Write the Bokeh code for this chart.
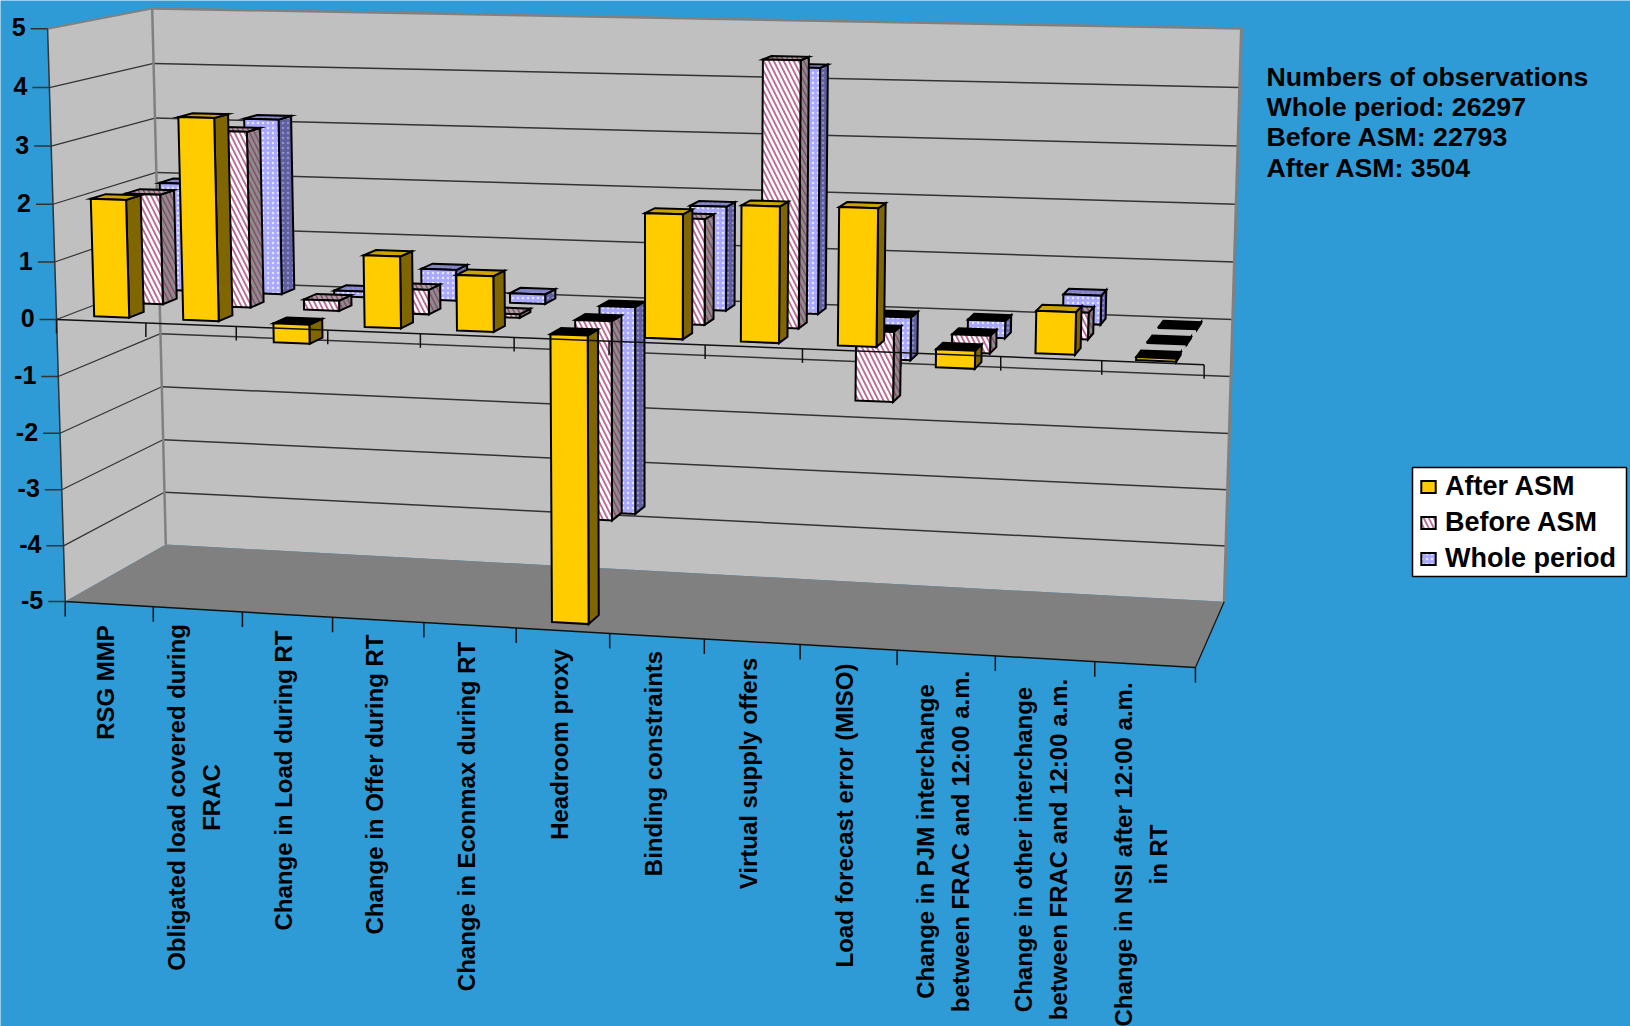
import numpy as np
from bokeh.core.properties import value
from bokeh.embed import file_html
from bokeh.models import Legend, LegendItem, Range1d
from bokeh.plotting import figure
from bokeh.resources import INLINE

# ---- chart data ----------------------------------------------------------
categories = [
    ["RSG MMP"],
    ["Obligated load covered during", "FRAC"],
    ["Change in Load during RT"],
    ["Change in Offer during RT"],
    ["Change in Econmax during RT"],
    ["Headroom proxy"],
    ["Binding constraints"],
    ["Virtual supply offers"],
    ["Load forecast error (MISO)"],
    ["Change in PJM interchange", "between FRAC and 12:00 a.m."],
    ["Change in other interchange", "between FRAC and 12:00 a.m."],
    ["Change in NSI after 12:00 a.m.", "in RT"],
]
after_asm = [2.05, 3.5, -0.33, 1.23, 0.95, -4.98, 2.1, 2.28, 2.3, -0.3, 0.7, -0.05]
before_asm = [1.95, 3.1, 0.18, 0.43, 0.06, -3.5, 1.82, 4.55, -1.2, -0.3, 0.45, -0.02]
whole_period = [1.95, 3.15, 0.1, 0.55, 0.17, -3.72, 1.83, 4.28, -0.75, -0.3, 0.5, -0.02]
value_ticks = [5, 4, 3, 2, 1, 0, -1, -2, -3, -4, -5]
notes = [
    "Numbers of observations",
    "Whole period: 26297",
    "Before ASM: 22793",
    "After ASM: 3504",
]

# ---- page and styling constants ------------------------------------------
WIDTH, HEIGHT = 1630, 1026
PAGE = "#2E9BD6"
WALL = "#C0C0C0"
FLOOR = "#808080"
FONT = "Liberation Sans"
N_CAT = len(categories)

# ---- perspective camera: (category, value, depth) -> page pixels ---------
camera_anchors = [
    (0, 5, 0, 47, 28), (0, 0, 0, 56, 319), (0, -5, 0, 64.6, 601),
    (1, -5, 0, 153, 606), (3, -5, 0, 332.5, 616.7), (6, -5, 0, 609, 633),
    (9, -5, 0, 897, 650), (12, -5, 0, 1194.6, 667),
    (1, 0, 0, 145, 322.7), (3, 0, 0, 328, 329.3), (6, 0, 0, 608, 341),
    (9, 0, 0, 900, 352.5), (12, 0, 0, 1204, 364),
    (0, 5, 1, 152, 8), (0, 0, 1, 158.5, 280), (0, -5, 1, 165, 544),
    (12, 5, 1, 1241, 28), (12, 0, 1, 1232, 319), (12, -5, 1, 1224, 601),
]


def fit_camera(anchors):
    rows, rhs = [], []
    for u, v, w, x, y in anchors:
        rows.append([u, v, w, 1, 0, 0, 0, 0, -x * u, -x * v, -x * w])
        rhs.append(x)
        rows.append([0, 0, 0, 0, u, v, w, 1, -y * u, -y * v, -y * w])
        rhs.append(y)
    sol = np.linalg.lstsq(np.array(rows, float), np.array(rhs, float), rcond=None)[0]
    return np.append(sol, 1.0).reshape(3, 4)


CAMERA = fit_camera(camera_anchors)


def project(u, v, w):
    q = CAMERA @ np.array([u, v, w, 1.0])
    return q[0] / q[2], q[1] / q[2]


def face(*corners):
    pts = [project(*c) for c in corners]
    return [p[0] for p in pts], [p[1] for p in pts]


def add_face(plot, faces, **style):
    xs = [f[0] for f in faces]
    ys = [f[1] for f in faces]
    return plot.patches(xs, ys, **style)


def segment(plot, a, b, color, width):
    (x0, y0), (x1, y1) = project(*a), project(*b)
    plot.line([x0, x1], [y0, y1], line_color=color, line_width=width)


p = figure(
    width=WIDTH, height=HEIGHT, output_backend="svg", toolbar_location=None,
    x_range=Range1d(0, WIDTH), y_range=Range1d(HEIGHT, 0),
    background_fill_color=PAGE, border_fill_color=PAGE,
    min_border=0, outline_line_color=None, x_axis_type=None, y_axis_type=None,
)
p.grid.visible = False

# ---- walls and floor -----------------------------------------------------
add_face(p, [face((0, -5, 0), (0, -5, 1), (0, 5, 1), (0, 5, 0))], fill_color=WALL, line_color=None)
add_face(p, [face((0, -5, 1), (N_CAT, -5, 1), (N_CAT, 5, 1), (0, 5, 1))], fill_color=WALL, line_color=None)
add_face(p, [face((0, -5, 0), (N_CAT, -5, 0), (N_CAT, -5, 1), (0, -5, 1))], fill_color=FLOOR, line_color=None)

for tick in value_ticks:
    if abs(tick) != 5:
        segment(p, (0, tick, 0), (0, tick, 1), "#333333", 1.2)
        segment(p, (0, tick, 1), (N_CAT, tick, 1), "#333333", 1.5)

segment(p, (0, 5, 0), (0, 5, 1), FLOOR, 2)
segment(p, (0, 5, 1), (N_CAT, 5, 1), FLOOR, 2.5)
segment(p, (0, 5, 1), (0, -5, 1), FLOOR, 2.5)
segment(p, (N_CAT, 5, 1), (N_CAT, -5, 1), FLOOR, 3)
segment(p, (0, -5, 0), (0, 5, 0), "#333333", 1.5)
segment(p, (0, -5, 0), (N_CAT, -5, 0), "#111111", 1.5)
segment(p, (N_CAT, -5, 0), (N_CAT, -5, 1), "#111111", 1.2)

# ---- 3-D columns, drawn from the back series to the front one -------------
BAR_WIDTH = 0.395
BAR_DEPTH = 0.14
series = [
    dict(name="Whole period", values=whole_period, w=0.77, fill="#A9A9FF", side="#5F5F9E", top="#8282C4",
         pattern=dict(hatch_pattern="dot", hatch_color="#FFFFFF", hatch_scale=5, hatch_weight=1.6, hatch_alpha=0.7),
         side_pattern=dict(hatch_pattern="dot", hatch_color="#8F8FCF", hatch_scale=5, hatch_weight=1.5)),
    dict(name="Before ASM", values=before_asm, w=0.43, fill="#FFFFFF", side="#8C8C8C", top="#A8A0A4",
         pattern=dict(hatch_pattern="left_diagonal_line", hatch_color="#BC6C95", hatch_scale=10, hatch_weight=1.9),
         side_pattern=dict(hatch_pattern="left_diagonal_line", hatch_color="#8A4A6A", hatch_scale=10, hatch_weight=1.5)),
    dict(name="After ASM", values=after_asm, w=0.10, fill="#FFCC00", side="#806600", top="#CCA300",
         pattern=dict(), side_pattern=dict()),
]
OUTLINE = dict(line_color="black", line_width=2, line_join="miter")
legend_renderers = {}
for s in series:
    sides, tops_up, tops_down, fronts = [], [], [], []
    w0, w1 = s["w"], s["w"] + BAR_DEPTH
    for i, val in enumerate(s["values"]):
        u0, u1 = i + 0.5 - BAR_WIDTH / 2, i + 0.5 + BAR_WIDTH / 2
        hi, lo = max(val, 0), min(val, 0)
        sides.append(face((u1, lo, w0), (u1, lo, w1), (u1, hi, w1), (u1, hi, w0)))
        lid = face((u0, hi, w0), (u1, hi, w0), (u1, hi, w1), (u0, hi, w1))
        (tops_up if val > 0 else tops_down).append(lid)
        fronts.append(face((u0, lo, w0), (u1, lo, w0), (u1, hi, w0), (u0, hi, w0)))
    add_face(p, sides, fill_color=s["side"], **s["side_pattern"], **OUTLINE)
    if tops_up:
        add_face(p, tops_up, fill_color=s["top"], **s["side_pattern"], **OUTLINE)
    if tops_down:
        add_face(p, tops_down, fill_color="black", **OUTLINE)
    legend_renderers[s["name"]] = add_face(p, fronts, fill_color=s["fill"], **s["pattern"], **OUTLINE)

# ---- category axis at zero, with its ticks, runs over the columns --------
segment(p, (0, 0, 0), (N_CAT, 0, 0), "#111111", 1.5)
for k in range(N_CAT + 1):
    x, y = project(k, 0, 0)
    p.line([x, x], [y, y + 14], line_color="#111111", line_width=1.5)
    x, y = project(k, -5, 0)
    p.line([x, x], [y, y + 15], line_color="#111111", line_width=1.5)

# ---- value axis ----------------------------------------------------------
tick_x, tick_y = zip(*[project(0, t, 0) for t in value_ticks])
for x, y in zip(tick_x, tick_y):
    p.line([x - 17, x], [y, y], line_color="#333333", line_width=1.5)
p.text(
    x=[x - 22 for x in tick_x], y=[y - 1.5 for y in tick_y], text=[str(t) for t in value_ticks],
    text_font=value(FONT), text_font_style="bold", text_font_size="25px",
    text_align="right", text_baseline="middle", text_color="black",
)

# ---- rotated category labels, one or two lines centred on the same spot ---
label_centre_y = [682, 797, 780, 784, 816, 744, 763, 773, 815, 841, 849, 854]
LINE_GAP = 35
lx, ly, lt = [], [], []
for k, (lines, cy) in enumerate(zip(categories, label_centre_y)):
    mid = project(k + 0.5, -5, 0)[0] - 3.5
    for j, line in enumerate(lines):
        lx.append(mid + (j - (len(lines) - 1) / 2) * LINE_GAP)
        ly.append(cy)
        lt.append(line)
p.text(
    x=lx, y=ly, text=lt, angle=np.pi / 2,
    text_font=value(FONT), text_font_style="bold", text_font_size="24px",
    text_align="center", text_baseline="middle", text_color="black",
)

# ---- observation counts --------------------------------------------------
p.text(
    x=[1266] * len(notes), y=[76.7 + 30.1 * i for i in range(len(notes))], text=notes,
    text_font=value(FONT), text_font_style="bold", text_font_size="26.7px",
    text_align="left", text_baseline="middle", text_color="black",
)

# ---- legend: a white panel with the entries laid over it -----------------
p.quad(left=[1412], right=[1626], top=[467], bottom=[576],
       fill_color="white", line_color="black", line_width=1.5)
legend = Legend(
    items=[LegendItem(label=n, renderers=[legend_renderers[n]]) for n in ("After ASM", "Before ASM", "Whole period")],
    location=(1419, HEIGHT - 574), orientation="vertical",
    background_fill_alpha=0, border_line_color=None,
    label_text_font=FONT, label_text_font_style="bold", label_text_font_size="27px",
    label_text_color="black", glyph_width=18, glyph_height=15,
    spacing=5, padding=0, margin=0, label_standoff=8,
)
p.add_layout(legend, "center")

open("out.html", "w").write(file_html(p, INLINE))
